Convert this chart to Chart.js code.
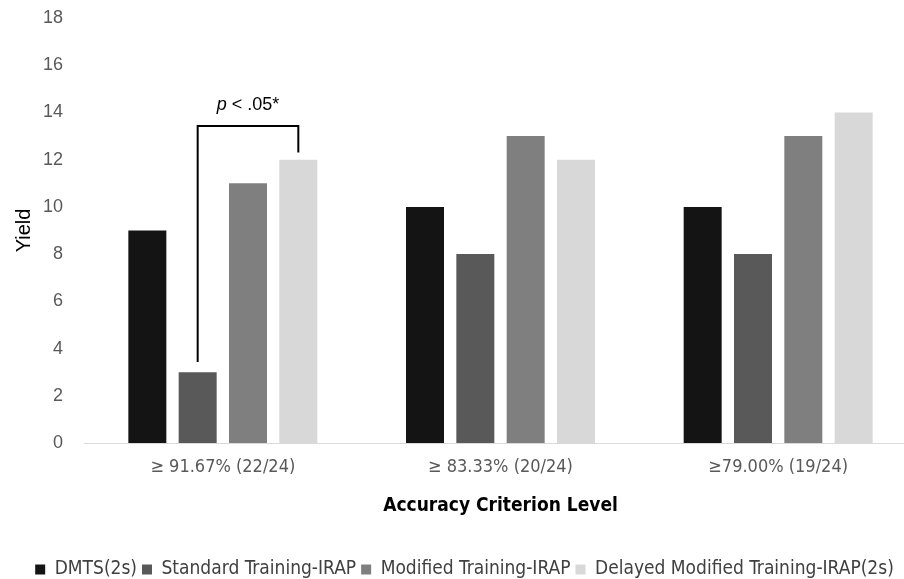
<!DOCTYPE html>
<html><head><meta charset="utf-8">
<script src="https://cdn.jsdelivr.net/npm/chart.js@4"></script>
<style>html,body{margin:0;padding:0;background:#fff;overflow:hidden}#wrap{width:904px;height:579px;overflow:hidden}canvas{display:block}</style>
</head><body><div id="wrap"><canvas id="c" width="917" height="579"></canvas></div>
<script>
const categories = ["≥ 91.67% (22/24)", "≥ 83.33% (20/24)", "≥79.00% (19/24)"];
const seriesNames = ["DMTS(2s)", "Standard Training-IRAP", "Modified Training-IRAP", "Delayed Modified Training-IRAP(2s)"];
const dmts = [9, 10, 10];
const standardIRAP = [3, 8, 8];
const modifiedIRAP = [11, 13, 13];
const delayedIRAP = [12, 12, 14];
const yTicks = [0, 2, 4, 6, 8, 10, 12, 14, 16, 18];
const sigLabel = "p < .05*";
const colors = ["#141414", "#595959", "#7f7f7f", "#d8d8d8"];
const condensed = "'Liberation Sans Narrow', 'DejaVu Sans Condensed', sans-serif";
const sans = "'Liberation Sans', Arial, sans-serif";

const bracketPlugin = {
  id: 'bracket',
  afterDatasetsDraw(chart) {
    const ctx = chart.ctx, y = chart.scales.y;
    const b1 = chart.getDatasetMeta(1).data[0];
    const b3 = chart.getDatasetMeta(3).data[0];
    const v1 = standardIRAP[0], v3 = delayedIRAP[0];
    const top = Math.max(v1, v3) + 1.43;
    ctx.save();
    ctx.strokeStyle = '#000'; ctx.lineWidth = 2;
    ctx.beginPath();
    ctx.moveTo(b1.x, y.getPixelForValue(v1 + 0.43));
    ctx.lineTo(b1.x, y.getPixelForValue(top));
    ctx.lineTo(b3.x, y.getPixelForValue(top));
    ctx.lineTo(b3.x, y.getPixelForValue(v3 + 0.3));
    ctx.stroke();
    const cx = (b1.x + b3.x) / 2, ty = y.getPixelForValue(top + 0.89);
    ctx.fillStyle = '#000';
    ctx.textBaseline = 'middle';
    const p = 'p', rest = sigLabel.slice(1);
    ctx.font = "italic 18px " + sans;
    const wp = ctx.measureText(p).width;
    ctx.font = "18px " + sans;
    const wr = ctx.measureText(rest).width;
    const x0 = cx - (wp + wr) / 2;
    ctx.font = "italic 18px " + sans;
    ctx.fillText(p, x0, ty);
    ctx.font = "18px " + sans;
    ctx.fillText(rest, x0 + wp, ty);
    ctx.restore();
  }
};

const seriesData = [dmts, standardIRAP, modifiedIRAP, delayedIRAP];
new Chart(document.getElementById('c'), {
  type: 'bar',
  data: {
    labels: categories,
    datasets: seriesNames.map((n, i) => ({
      label: n, data: seriesData[i], backgroundColor: colors[i],
      borderWidth: 0, barPercentage: 0.755, categoryPercentage: 0.725
    }))
  },
  options: {
    responsive: false, animation: false,
    layout: { padding: { top: 18, right: 0, left: 12, bottom: -10 } },
    plugins: {
      tooltip: { enabled: false },
      legend: {
        position: 'bottom',
        labels: {
          boxWidth: 10, boxHeight: 10, color: '#404040', padding: 5,
          font: { family: condensed, size: 19 }
        }
      }
    },
    scales: {
      x: {
        afterFit(s) { s.paddingLeft = 0; s.paddingRight = 0; s.paddingTop = 0; s.paddingBottom = 0; s.height = 112; },
        grid: { display: false, drawTicks: false },
        border: { color: '#d9d9d9', width: 1 },
        ticks: { color: '#595959', padding: 14, font: { family: condensed, size: 18 } },
        title: { display: true, text: 'Accuracy Criterion Level', color: '#000',
          font: { family: condensed, size: 19, weight: 'bold' }, padding: { top: 1, bottom: 38 } }
      },
      y: {
        min: 0, max: 18,
        afterBuildTicks(axis) { axis.ticks = yTicks.map(v => ({ value: v })); },
        afterFit(s) { s.paddingLeft = 0; s.paddingRight = 0; s.paddingTop = 0; s.paddingBottom = 0; s.width = 72; },
        grid: { display: false, drawTicks: false },
        border: { display: false },
        ticks: { color: '#595959', padding: 21, font: { family: sans, size: 18 } },
        title: { display: true, text: 'Yield', color: '#000',
          font: { family: sans, size: 20 }, padding: { top: 0, bottom: 9 } }
      }
    }
  },
  plugins: [bracketPlugin]
});
</script></body></html>
